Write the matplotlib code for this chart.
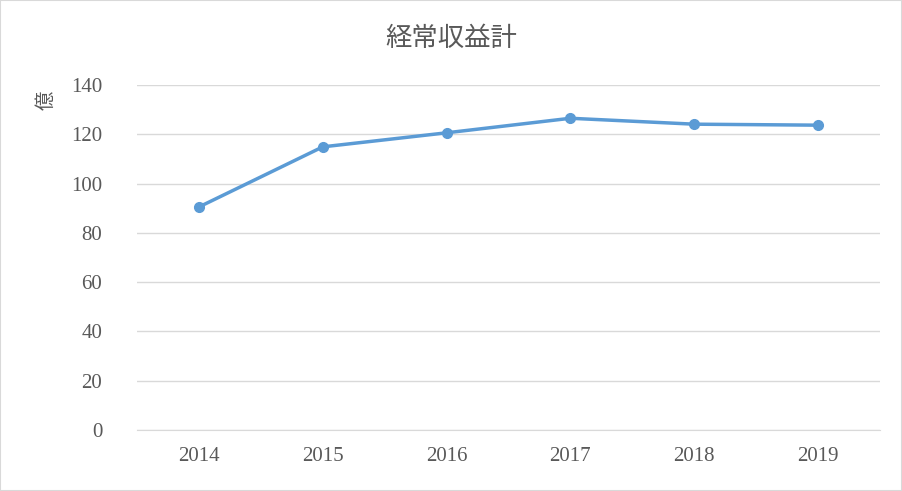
import matplotlib
matplotlib.use("Agg")
import matplotlib.pyplot as plt
from matplotlib.patches import Rectangle

years = ["2014", "2015", "2016", "2017", "2018", "2019"]
values = [90.5, 114.9, 120.6, 126.5, 124.1, 123.7]
yticks = [0, 20, 40, 60, 80, 100, 120, 140]
title = "経常収益計"
ylabel = "億"

fig = plt.figure(figsize=(9.02, 4.91), dpi=100)
ax = fig.add_axes([137/902, 1-430/491, (880-137)/902, (430-85)/491])
x = list(range(len(years)))
ax.plot(x, values, color="#5b9bd5", lw=2.5, marker="o", ms=7)
ax.set_xlim(-0.5, len(years)-0.5)
ax.set_ylim(0, 140)
ax.set_yticks(yticks)
ax.set_xticks(x)
ax.set_xticklabels(years)
for lab in ax.get_xticklabels() + ax.get_yticklabels():
    lab.set_family(["Liberation Serif"]); lab.set_fontsize(15); lab.set_color("#595959")
ax.tick_params(length=0, pad=12)
ax.tick_params(axis="y", pad=25)
ax.grid(axis="y", color="#d9d9d9", lw=1)
for s in ["top", "right", "left"]:
    ax.spines[s].set_visible(False)
ax.spines["bottom"].set_color("#d9d9d9")
ax.set_axisbelow(True)
fig.text(0.5, 1-38/491, title, ha="center", va="center", fontsize=19, color="#595959",
         family=["Noto Sans CJK JP", "DejaVu Sans"])
fig.text(46/902, 1-100/491, ylabel, ha="center", va="center", fontsize=14, color="#595959",
         rotation=90, family=["Noto Sans CJK JP", "DejaVu Sans"])
fig.patches.append(Rectangle((0, 0), 1, 1, transform=fig.transFigure, fill=False,
                             ec="#d9d9d9", lw=1.5))
fig.savefig("out.png", dpi=100)
